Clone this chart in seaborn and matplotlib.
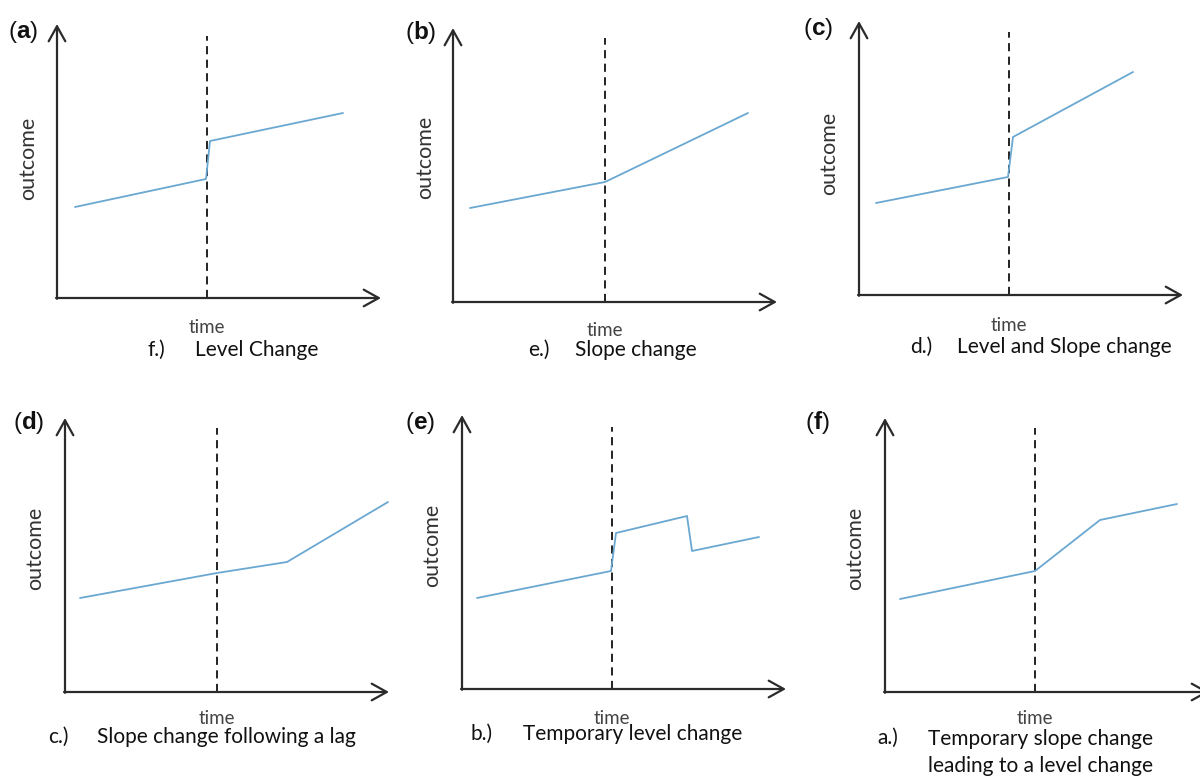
import matplotlib
matplotlib.use("Agg")
import matplotlib.pyplot as plt
import seaborn as sns
import pandas as pd

sns.set_theme(style="white")
plt.rcParams['font.family'] = ['Lato', 'DejaVu Sans']
plt.rcParams['mathtext.fontset'] = 'custom'
plt.rcParams['mathtext.bf'] = 'Liberation Sans:bold'
plt.rcParams['mathtext.rm'] = 'Liberation Sans'

# ---- data (in axis units: x=time, y=outcome) ----
panel_letters = ["a", "b", "c", "d", "e", "f"]
caption_tags = ["f.)", "e.)", "d.)", "c.)", "b.)", "a.)"]
caption_texts = ["Level Change", "Slope change", "Level and Slope change",
                 "Slope change following a lag", "Temporary level change",
                 "Temporary slope change\nleading to a level change"]

a_time = [18, 149, 153, 286]
a_outcome = [91, 119, 157, 185]
b_time = [17, 152, 295]
b_outcome = [94, 120, 189]
c_time = [17, 149, 154, 274]
c_outcome = [92, 118, 158, 223]
d_time = [15, 152, 222, 323]
d_outcome = [94, 119, 130, 190]
e_time = [15, 149, 154, 225, 230, 297]
e_outcome = [91, 118, 156, 173, 138, 152]
f_time = [15, 150, 215, 292]
f_outcome = [93, 121, 172, 188]

intervention_time = [150, 152, 150, 152, 150, 150]

series = [(a_time, a_outcome), (b_time, b_outcome), (c_time, c_outcome),
          (d_time, d_outcome), (e_time, e_outcome), (f_time, f_outcome)]

# ---- layout (pixels) ----
W, H = 1200, 778
origins = [(57, 298), (453, 302), (859, 295), (65, 692), (462, 689), (885, 692)]
XEXT, YEXT = 324, 274
dash_tops = [262, 264, 263, 264, 262, 264]
letter_pos = [(8, 32), (405, 32), (803, 29), (13, 423), (405, 423), (805, 423)]
outcome_pos = [(28, 158), (425, 157), (829, 153), (35, 548), (432, 545), (855, 548)]
tag_pos = [(147, 350), (528, 350), (910, 347), (48, 737), (470, 734), (877, 738)]
text_pos = [(195, 350), (575, 350), (957, 347), (97, 737), (523, 734), (928, 738)]
time_y = [328, 330, 325, 719, 719, 719]

LINE_C = "#6aa8d2"
AX_C = "#2b2b2b"

fig = plt.figure(figsize=(W / 100, H / 100), dpi=100)

def fx(px):
    return px / W

def fy(py):
    return 1 - py / H

for i in range(6):
    ox, oy = origins[i]
    ax = fig.add_axes([fx(ox), fy(oy), XEXT / W, YEXT / H])
    ax.set_xlim(0, XEXT)
    ax.set_ylim(0, YEXT)
    ax.axis("off")
    t, o = series[i]
    df = pd.DataFrame({"time": t, "outcome": o})
    sns.lineplot(data=df, x="time", y="outcome", ax=ax, sort=False,
                 estimator=None, color=LINE_C, linewidth=1.3)
    # dashed intervention line
    ax.plot([intervention_time[i]] * 2, [0, dash_tops[i]], color="#111111",
            linewidth=1.3, dashes=(4.5, 3), zorder=1)
    # arrows
    ax.annotate("", xy=(1.0, 0), xytext=(-0.003, 0), xycoords="axes fraction",
                arrowprops=dict(arrowstyle="->,head_length=0.9,head_width=0.5",
                                color=AX_C, lw=1.6, shrinkA=0, shrinkB=0),
                annotation_clip=False)
    ax.annotate("", xy=(0, 1.0), xytext=(0, -0.003), xycoords="axes fraction",
                arrowprops=dict(arrowstyle="->,head_length=0.9,head_width=0.5",
                                color=AX_C, lw=1.6, shrinkA=0, shrinkB=0),
                annotation_clip=False)
    # labels
    fig.text(fx(letter_pos[i][0]), fy(letter_pos[i][1]),
             r"($\mathbf{%s}$)" % panel_letters[i], fontsize=17.5,
             family="Liberation Sans", ha="left", va="center", color="#111111")
    fig.text(fx(outcome_pos[i][0]), fy(outcome_pos[i][1]), "outcome",
             rotation=90, fontsize=15.5, ha="center", va="center", color="#333333")
    fig.text(fx(ox + intervention_time[i]), fy(time_y[i]), "time",
             fontsize=13.5, ha="center", va="center", color="#444444")
    fig.text(fx(tag_pos[i][0]), fy(tag_pos[i][1]), caption_tags[i],
             fontsize=15, ha="left", va="center", color="#111111")
    fig.text(fx(text_pos[i][0]), fy(text_pos[i][1]) + (0 if "\n" not in caption_texts[i] else -0.0185),
             caption_texts[i], fontsize=15, ha="left", va="center",
             color="#111111", linespacing=1.4)

fig.savefig("out.png", dpi=100, facecolor="white")
